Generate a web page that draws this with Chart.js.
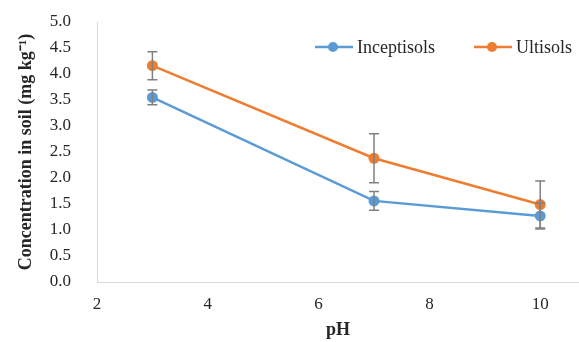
<!DOCTYPE html>
<html lang="en">
<head>
  <meta charset="UTF-8" />
  <title>Concentration in soil vs pH</title>
  <script src="https://cdn.jsdelivr.net/npm/chart.js"></script>
  <style>
    html, body { margin: 0; padding: 0; background: #fff; overflow: hidden; }
    canvas { display: block; }
  </style>
</head>
<body>
  <canvas id="soilChart" width="579" height="342"></canvas>
  <script>
    const phValues = [3, 7, 10];
    const seriesNames = ['Inceptisols', 'Ultisols'];
    const inceptisols = [3.55, 1.56, 1.27];
    const inceptisolsErr = [0.14, 0.18, 0.25];
    const ultisols = [4.16, 2.38, 1.49];
    const ultisolsErr = [0.27, 0.47, 0.45];
    const xTicks = [2, 4, 6, 8, 10];
    const colors = ['#5b9bd5', '#ed7d31'];

    const serif = "'Liberation Serif', 'Times New Roman', serif";

    // error bars drawn from the scales
    const errorBars = {
      id: 'errorBars',
      afterDatasetsDraw(chart) {
        const { ctx, scales: { x, y } } = chart;
        ctx.save();
        ctx.strokeStyle = '#808080';
        ctx.lineWidth = 1.5;
        chart.data.datasets.forEach(ds => {
          ds.data.forEach((pt, i) => {
            const px = x.getPixelForValue(pt.x);
            const top = y.getPixelForValue(pt.y + ds.errors[i]);
            const bot = y.getPixelForValue(pt.y - ds.errors[i]);
            ctx.beginPath();
            ctx.moveTo(px, top); ctx.lineTo(px, bot);
            ctx.moveTo(px - 5, top); ctx.lineTo(px + 5, top);
            ctx.moveTo(px - 5, bot); ctx.lineTo(px + 5, bot);
            ctx.stroke();
          });
        });
        ctx.restore();
      }
    };

    // legend inside the plot, top right
    const innerLegend = {
      id: 'innerLegend',
      afterDraw(chart) {
        const { ctx } = chart;
        const starts = [315, 474];
        const yPos = 47;
        ctx.save();
        ctx.font = '18px ' + serif;
        ctx.textBaseline = 'middle';
        starts.forEach((x0, i) => {
          ctx.strokeStyle = colors[i];
          ctx.lineWidth = 2.5;
          ctx.beginPath();
          ctx.moveTo(x0, yPos); ctx.lineTo(x0 + 38, yPos);
          ctx.stroke();
          ctx.fillStyle = colors[i];
          ctx.beginPath();
          ctx.arc(x0 + 18, yPos, 5, 0, Math.PI * 2);
          ctx.fill();
          ctx.fillStyle = '#262626';
          ctx.fillText(seriesNames[i], x0 + 42, yPos + 1);
        });
        ctx.restore();
      }
    };

    const toPoints = vals => vals.map((v, i) => ({ x: phValues[i], y: v }));

    new Chart(document.getElementById('soilChart'), {
      type: 'line',
      data: {
        datasets: [
          {
            label: seriesNames[0],
            data: toPoints(inceptisols),
            errors: inceptisolsErr,
            borderColor: colors[0],
            backgroundColor: colors[0],
            borderWidth: 2.5,
            pointRadius: 5.5,
            pointBorderWidth: 0,
            pointHoverRadius: 5.5
          },
          {
            label: seriesNames[1],
            data: toPoints(ultisols),
            errors: ultisolsErr,
            borderColor: colors[1],
            backgroundColor: colors[1],
            borderWidth: 2.5,
            pointRadius: 5.5,
            pointBorderWidth: 0,
            pointHoverRadius: 5.5
          }
        ]
      },
      options: {
        responsive: false,
        animation: false,
        layout: { autoPadding: false, padding: { top: 22, right: 0, left: 0, bottom: 0 } },
        plugins: {
          legend: { display: false },
          tooltip: { enabled: false }
        },
        scales: {
          x: {
            type: 'linear',
            min: 2,
            max: 10.7,
            afterBuildTicks: scale => { scale.ticks = xTicks.map(v => ({ value: v })); },
            afterFit: scale => { scale.height = 60; scale.paddingLeft = 0; scale.paddingRight = 0; },
            grid: { display: false },
            border: { display: true, color: '#d9d9d9', width: 1 },
            ticks: { color: '#262626', font: { family: serif, size: 17 }, padding: 4, maxRotation: 0 },
            title: { display: true, text: 'pH', color: '#262626', font: { family: serif, size: 18, weight: 'bold' }, padding: { top: 0, bottom: 1 } }
          },
          y: {
            min: 0,
            max: 5,
            ticks: { stepSize: 0.5, color: '#262626', font: { family: serif, size: 17 }, padding: 18, callback: v => v.toFixed(1) },
            afterFit: scale => { scale.width = 97; scale.paddingTop = 0; scale.paddingBottom = 0; },
            grid: { display: false },
            border: { display: true, color: '#d9d9d9', width: 1 },
            title: { display: true, text: 'Concentration in soil (mg kg\u207B\u00B9)', color: '#262626', font: { family: serif, size: 18, weight: 'bold' }, padding: { top: 16, bottom: 0 } }
          }
        }
      },
      plugins: [errorBars, innerLegend]
    });
  </script>
</body>
</html>
